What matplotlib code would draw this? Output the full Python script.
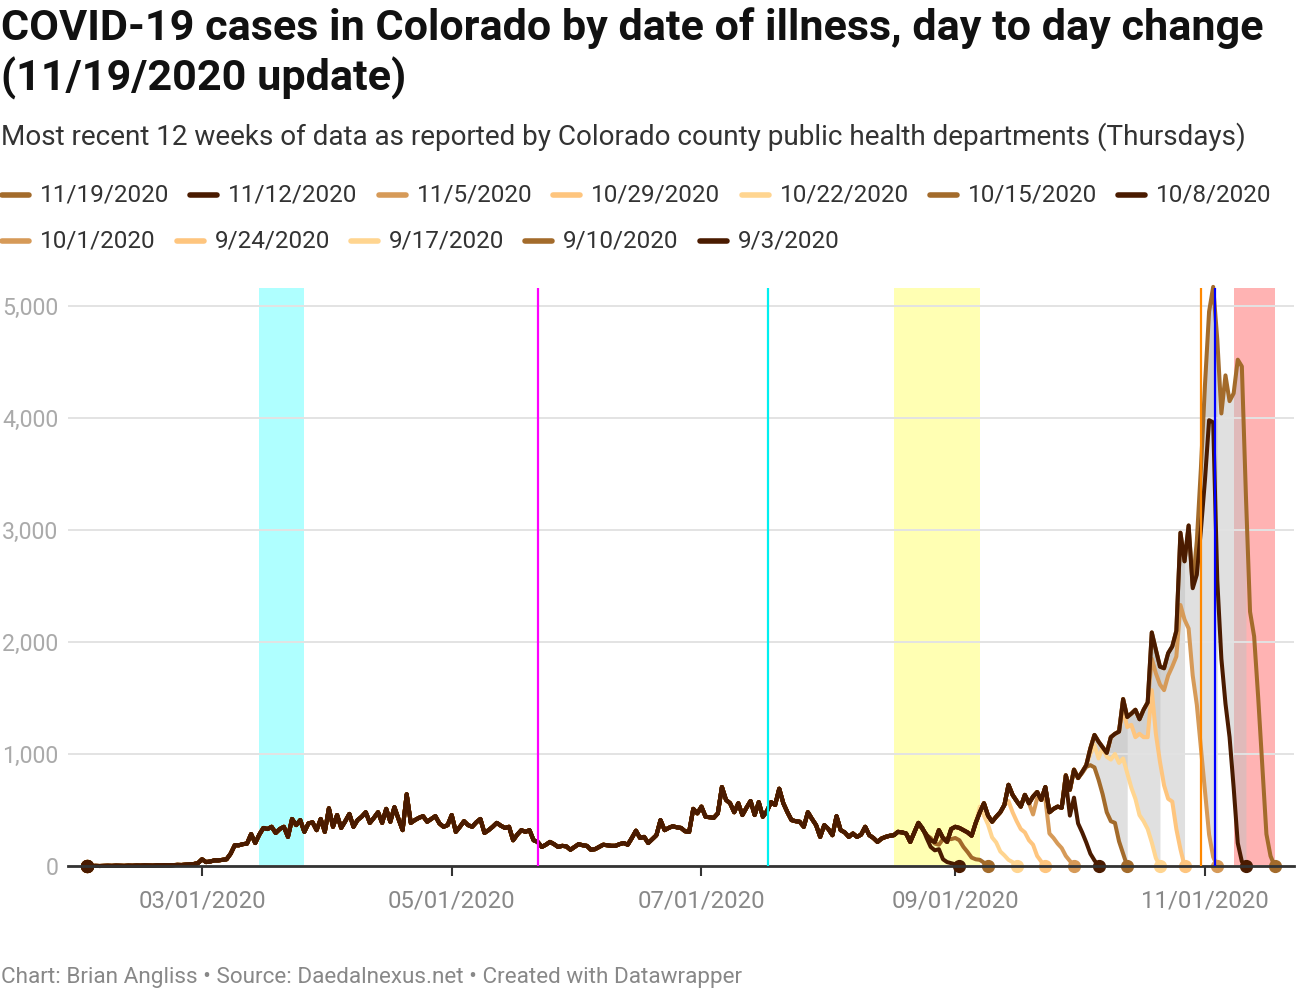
import matplotlib
matplotlib.use("Agg")
import matplotlib.pyplot as plt
import pandas as pd
from matplotlib.lines import Line2D

plt.rcParams['font.family'] = ['Roboto', 'DejaVu Sans']

# Daily cases by date of illness, 11/19/2020 report, Feb 2 - Nov 18
feb = [2, 0, 1, 0, 1, 2, 1, 3, 2, 1, 3, 2, 4, 3, 5, 4, 3, 6, 5, 7, 6, 8, 10, 9, 12, 14, 18, 25]
mar = [60, 35, 40, 50, 50, 55, 60, 110, 185, 185, 195, 200, 285, 205, 280, 340, 330, 350, 295, 330,
       350, 260, 420, 365, 410, 305, 380, 390, 320, 420, 305]
apr = [515, 350, 455, 340, 400, 465, 350, 410, 440, 480, 385, 430, 480, 385, 510, 395, 525, 420, 320, 640,
       385, 410, 430, 445, 395, 420, 445, 380, 350, 365]
may = [455, 305, 350, 400, 365, 350, 390, 420, 295, 320, 350, 385, 360, 340, 350, 230, 280, 320, 305, 320,
       230, 215, 170, 190, 215, 195, 170, 180, 175, 145, 170]
jun = [195, 185, 180, 145, 150, 170, 190, 185, 180, 180, 195, 205, 190, 250, 315, 250, 260, 205, 240, 275,
       410, 320, 340, 355, 345, 340, 310, 305, 510, 470]
jul = [530, 440, 435, 430, 470, 705, 590, 560, 480, 560, 455, 520, 580, 455, 570, 440, 490, 570, 545, 690,
       560, 480, 410, 400, 395, 350, 480, 420, 365, 260, 365]
aug = [330, 275, 445, 320, 300, 260, 290, 260, 280, 350, 275, 250, 215, 245, 260, 270, 275, 305, 300, 290,
       215, 300, 385, 330, 275, 230, 215, 320, 250, 215, 330]
sep = [350, 340, 320, 300, 270, 385, 480, 560, 450, 395, 440, 480, 545, 725, 635, 580, 530, 635, 560, 620,
       660, 590, 705, 480, 510, 530, 520, 810, 680, 860]
octo = [785, 840, 900, 1050, 1170, 1110, 1060, 1010, 1150, 1180, 1200, 1490, 1330, 1360, 1395, 1310, 1395,
        1460, 2085, 1930, 1780, 1765, 1900, 1960, 2100, 2975, 2720, 3040, 2500, 2900, 3550]
nov = [4300, 4950, 5170, 4700, 4040, 4380, 4150, 4220, 4520, 4460, 3300, 2270, 2050, 1500, 900, 285, 90, 0]

base = feb + mar + apr + may + jun + jul + aug + sep + octo + nov
dates = pd.date_range('2020-02-02', '2020-11-18')

reports = ['11/19/2020', '11/12/2020', '11/5/2020', '10/29/2020', '10/22/2020', '10/15/2020',
           '10/8/2020', '10/1/2020', '9/24/2020', '9/17/2020', '9/10/2020', '9/3/2020']
colors = ['#a36b2b', '#4a1b00', '#d69a58', '#fec57e', '#ffd590', '#a36b2b',
          '#4a1b00', '#d69a58', '#fec57e', '#ffd590', '#a36b2b', '#4a1b00']

# where each older report departs from the latest one, and its own values from there
tail_start = {'11/12/2020': '2020-10-29', '11/5/2020': '2020-10-19', '10/29/2020': '2020-10-12',
              '10/22/2020': '2020-10-04', '10/15/2020': '2020-10-02', '10/8/2020': '2020-09-26',
              '10/1/2020': '2020-09-20', '9/24/2020': '2020-09-14', '9/17/2020': '2020-09-07',
              '9/10/2020': '2020-08-26', '9/3/2020': '2020-08-24'}
tails = {
    '11/12/2020': [2480, 2600, 3000, 3450, 3980, 3960, 2550, 1850, 1450, 1150, 700, 205, 40, 0],
    '11/5/2020': [1850, 1720, 1620, 1570, 1700, 1780, 1870, 2330, 2200, 2120, 1700, 1440, 1050, 650, 280, 80, 0],
    '10/29/2020': [1400, 1240, 1260, 1150, 1180, 1150, 1150, 1570, 1180, 930, 720, 600, 575, 330, 150, 0],
    '10/22/2020': [1000, 1080, 960, 1060, 975, 950, 1000, 920, 960, 830, 700, 600, 454, 400, 330, 210, 70, 0],
    '10/15/2020': [830, 885, 900, 880, 770, 640, 480, 400, 385, 220, 110, 0],
    '10/8/2020': [530, 520, 760, 450, 610, 380, 300, 210, 110, 50, 0],
    '10/1/2020': [460, 605, 600, 600, 290, 250, 200, 160, 90, 45, 0],
    '9/24/2020': [580, 480, 400, 330, 300, 230, 190, 90, 40, 0],
    '9/17/2020': [530, 450, 370, 255, 210, 130, 95, 55, 35, 0],
    '9/10/2020': [250, 200, 190, 240, 245, 240, 250, 230, 170, 125, 75, 60, 55, 30, 0],
    '9/3/2020': [340, 250, 170, 140, 150, 60, 35, 25, 15, 0],
}
filled = ['11/12/2020', '11/5/2020', '10/29/2020', '10/22/2020', '10/15/2020']

bands = [('2020-03-15', '2020-03-26', '#afffff'), ('2020-08-17', '2020-09-07', '#ffffb3'),
         ('2020-11-08', '2020-11-18', '#ffb3b3')]
events = [('2020-05-22', '#ff00ff'), ('2020-07-17 06:00', '#00f0f0'), ('2020-10-31', '#ff8800'),
          ('2020-11-03 12:00', '#0000ff')]


def series(rep):
    if rep == reports[0]:
        return dates, base
    i0 = dates.get_loc(pd.Timestamp(tail_start[rep]))
    vals = base[:i0] + tails[rep]
    return dates[:len(vals)], vals


fig = plt.figure(figsize=(13, 10), dpi=100)
ax = fig.add_axes([68 / 1300, 134 / 1000, 1226 / 1300, 578 / 1000])

for s, e, c in bands:
    ax.axvspan(pd.Timestamp(s), pd.Timestamp(e), color=c, lw=0, zorder=0.5)

# gray area between the latest report and the recent older ones
for rep in filled:
    d, v = series(rep)
    i0 = dates.get_loc(pd.Timestamp(tail_start[rep])) - 1
    ax.fill_between(d[i0:], base[i0:len(v)], v[i0:], color='#c2c2c2', alpha=0.5, lw=0, zorder=1.5)

zorders = {'#4a1b00': 5, '#a36b2b': 4, '#d69a58': 3.6, '#fec57e': 3.3, '#ffd590': 3}
for rep, c in zip(reports, colors):
    d, v = series(rep)
    z = zorders[c]
    ax.plot(d, v, color=c, lw=2.9, zorder=z, clip_on=False,
            solid_joinstyle='round', solid_capstyle='round')
    ax.plot([d[-1]], [v[-1]], 'o', ms=8.5, color=c, zorder=z + 3, clip_on=False)
    ax.plot([d[0]], [v[0]], 'o', ms=8.5, color=c, zorder=z + 3, clip_on=False)

for day, c in events:
    ax.axvline(pd.Timestamp(day), color=c, lw=1.6, zorder=9)

ax.set_xlim(pd.Timestamp('2020-01-28 06:30'), pd.Timestamp('2020-11-22 17:45'))
ax.set_ylim(0, 5160)
yt = [0, 1000, 2000, 3000, 4000, 5000]
ax.set_yticks(yt)
ax.set_yticklabels([f'{t:,}' for t in yt])
xt = pd.to_datetime(['2020-03-01', '2020-05-01', '2020-07-01', '2020-09-01', '2020-11-01'])
ax.set_xticks(xt)
ax.set_xticklabels([t.strftime('%m/%d/%Y') for t in xt])
ax.grid(axis='y', color='#e3e3e3', lw=1.4, zorder=0.8)
ax.set_axisbelow(False)
for sp in ['top', 'right', 'left']:
    ax.spines[sp].set_visible(False)
ax.spines['bottom'].set_color('#333333')
ax.spines['bottom'].set_linewidth(2)
ax.spines['bottom'].set_zorder(8)
ax.tick_params(axis='y', length=0, pad=7, labelsize=16.7, labelcolor='#aaaaaa')
ax.tick_params(axis='x', length=7, width=1.5, color='#333333', pad=10, labelsize=17.2, labelcolor='#888888')

fig.text(0.001, 1 - 40 / 1000, 'COVID-19 cases in Colorado by date of illness, day to day change',
         fontsize=31.1, weight='bold', color='#111111', va='baseline')
fig.text(0.001, 1 - 90 / 1000, '(11/19/2020 update)', fontsize=31.1, weight='bold', color='#111111',
         va='baseline')
fig.text(0.001, 1 - 145 / 1000,
         'Most recent 12 weeks of data as reported by Colorado county public health departments (Thursdays)',
         fontsize=20.1, color='#333333', va='baseline')
fig.text(0.001, 1 - 983 / 1000,
         'Chart: Brian Angliss \u2022 Source: Daedalnexus.net \u2022 Created with Datawrapper',
         fontsize=16.2, color='#888888', va='baseline')

# legend, two rows laid out by measured text width
renderer = fig.canvas.get_renderer()
W, H = 1300, 1000
rows = [reports[:7], reports[7:]]
row_colors = [colors[:7], colors[7:]]
for yrow, reps, cols in zip([195, 241], rows, row_colors):
    x = 0
    for rep, c in zip(reps, cols):
        fig.add_artist(Line2D([(x + 2) / W, (x + 29) / W], [1 - yrow / H] * 2, color=c, lw=4,
                              solid_capstyle='round', transform=fig.transFigure))
        t = fig.text((x + 40) / W, 1 - yrow / H, rep, fontsize=17.5, color='#333333', va='center')
        w = t.get_window_extent(renderer).width
        x += 40 + w + 19

fig.savefig('out.png', dpi=100)
